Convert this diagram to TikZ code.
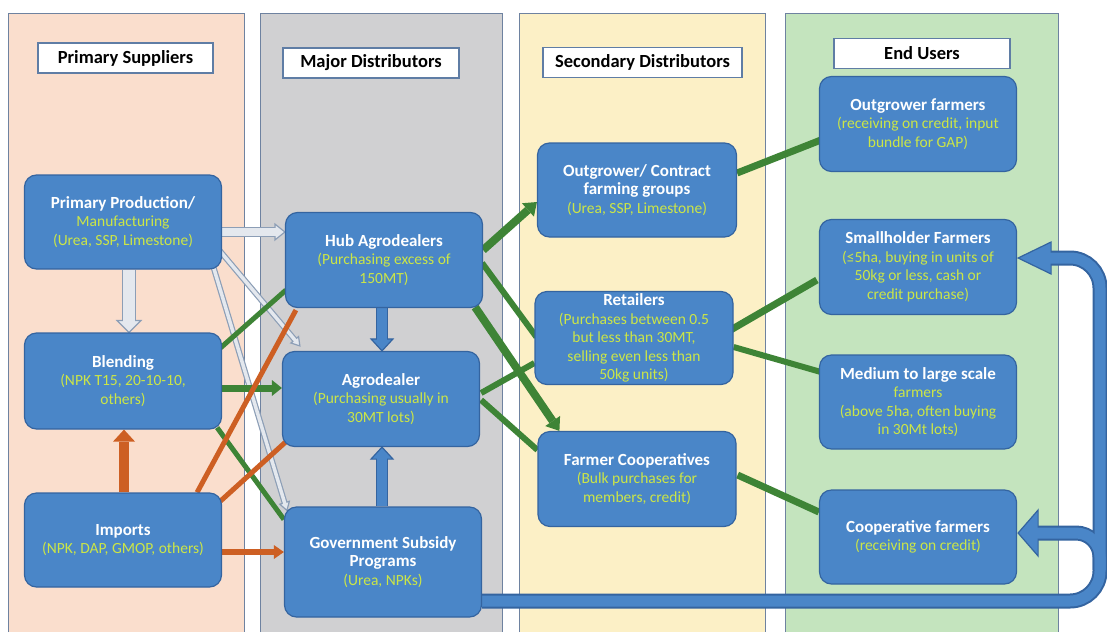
\documentclass[tikz,border=0pt]{standalone}
\usepackage{fontspec}
\setmainfont{Carlito}
\usetikzlibrary{calc,arrows.meta}
\definecolor{nodeblue}{RGB}{74,134,200}
\definecolor{bluebd}{RGB}{52,100,160}
\definecolor{subyg}{RGB}{204,230,70}
\definecolor{pPeach}{RGB}{250,222,205}
\definecolor{pGray}{RGB}{208,208,210}
\definecolor{pYellow}{RGB}{252,240,198}
\definecolor{pGreen}{RGB}{196,228,190}
\definecolor{panelbd}{RGB}{110,130,160}
\definecolor{titlebd}{RGB}{95,125,165}
\definecolor{grn}{RGB}{62,132,54}
\definecolor{org}{RGB}{205,95,35}
\definecolor{lgfill}{RGB}{228,232,238}
\definecolor{lgbd}{RGB}{140,158,182}
\pgfdeclarelayer{bg}
\pgfdeclarelayer{conn}
\pgfsetlayers{bg,conn,main}
% plain arrow: colour, width, from, tip, head length, head half width
\newcommand\parrow[6]{%
  \path ($(#4)!#5!(#3)$) coordinate (hbp);
  \draw[#1, line width=#2] (#3) -- (hbp);
  \fill[#1] (#4) -- ($(hbp)!#6!90:(#4)$) -- ($(hbp)!#6!-90:(#4)$) -- cycle;
}
% bordered block arrow: fill, border, shaft width, from, tip, head length, head half width
\newcommand\barrow[7]{%
  \path ($(#5)!#6!(#4)$) coordinate (hbb);
  \draw[#2, line width=#3+2.4pt] (#4) -- (hbb);
  \filldraw[fill=#1, draw=#2, line width=1.2pt, line join=miter] (#5) -- ($(hbb)!#7!90:(#5)$) -- ($(hbb)!#7!-90:(#5)$) -- cycle;
  \draw[#1, line width=#3] (#4) -- ($(hbb)!1.6pt!(#5)$);
}
\tikzset{
  box/.style={rounded corners=12pt, fill=nodeblue, draw=bluebd, line width=1.2pt,
    minimum width=197pt, minimum height=94pt, align=center, text=white, inner sep=2pt,
    font=\fontsize{15.5}{18.5}\selectfont},
  title/.style={fill=white, draw=titlebd, line width=1.2pt, minimum height=30pt,
    font=\fontsize{18.5}{20}\selectfont\bfseries, text=black, inner sep=0pt},
  panel/.style={draw=panelbd, line width=1pt},
  gline/.style={grn, line width=#1},
  oline/.style={org, line width=#1},
}
\newcommand\hd[1]{{\fontsize{17}{18.5}\selectfont\bfseries #1}}
\newcommand\sub[1]{\textcolor{subyg}{#1}}
\begin{document}
\begin{tikzpicture}[x=1pt,y=-1pt]
\useasboundingbox (0,0) rectangle (1107,632);
\begin{pgfonlayer}{bg}
  \fill[white] (0,0) rectangle (1107,632);
  \fill[pPeach] (8,13) rectangle (244,632);
  \draw[panel] (8,632) -- (8,13) -- (244,13) -- (244,632);
  \fill[pGray] (260,13) rectangle (502,632);
  \draw[panel] (260,632) -- (260,13) -- (502,13) -- (502,632);
  \fill[pYellow] (519,13) rectangle (765,632);
  \draw[panel] (519,632) -- (519,13) -- (765,13) -- (765,632);
  \fill[pGreen] (785,13) rectangle (1058,632);
  \draw[panel] (785,632) -- (785,13) -- (1058,13) -- (1058,632);
\end{pgfonlayer}

% titles
\node[title, minimum width=175pt] (T1) at (125.5,58) {Primary Suppliers};
\node[title, minimum width=176pt] (T2) at (371,63) {Major Distributors};
\node[title, minimum width=199pt] (T3) at (642.5,62.5) {Secondary Distributors};
\node[title, minimum width=176pt] (T4) at (922,53.5) {End Users};

% nodes
\node[box] (PP) at (123,222) {\hd{Primary Production/}\\\sub{Manufacturing}\\\sub{(Urea, SSP, Limestone)}};
\node[box, minimum height=96pt] (Blend) at (123,381) {\hd{Blending}\\\sub{(NPK T15, 20-10-10,}\\\sub{others)}};
\node[box] (Imp) at (123,540) {\hd{Imports}\\\sub{(NPK, DAP, GMOP, others)}};
\node[box, minimum height=95pt] (Hub) at (384,260) {\hd{Hub Agrodealers}\\\sub{(Purchasing excess of}\\\sub{150MT)}};
\node[box, minimum height=95pt] (Agro) at (381,399) {\hd{Agrodealer}\\\sub{(Purchasing usually in}\\\sub{30MT lots)}};
\node[box, minimum height=110pt] (Gov) at (383,562) {\hd{Government Subsidy}\\\hd{Programs}\\\sub{(Urea, NPKs)}};
\node[box, minimum width=199pt] (OCG) at (637,190) {\hd{Outgrower/ Contract}\\\hd{farming groups}\\\sub{(Urea, SSP, Limestone)}};
\node[box, minimum width=198pt, minimum height=93pt] (Ret) at (634,338) {\hd{Retailers}\\\sub{(Purchases between 0.5}\\\sub{but less than 30MT,}\\\sub{selling even less than}\\\sub{50kg units)}};
\node[box, minimum width=198pt, minimum height=95pt] (FC) at (637,479) {\hd{Farmer Cooperatives}\\\sub{(Bulk purchases for}\\\sub{members, credit)}};
\node[box, minimum height=95pt] (OF) at (918,124) {\hd{Outgrower farmers}\\\sub{(receiving on credit, input}\\\sub{bundle for GAP)}};
\node[box, minimum height=95pt] (SF) at (918,267) {\hd{Smallholder Farmers}\\\sub{(≤5ha, buying in units of}\\\sub{50kg or less, cash or}\\\sub{credit purchase)}};
\node[box] (MF) at (918,402) {\hd{Medium to large scale}\\\sub{farmers}\\\sub{(above 5ha, often buying}\\\sub{in 30Mt lots)}};
\node[box] (CF) at (918,537) {\hd{Cooperative farmers}\\\sub{(receiving on credit)}};

% connection points
\path ($(PP.east)+(0,10)$) coordinate (s1) ($(Hub.west)+(0,-28)$) coordinate (e1)
      ($(PP.south)+(6,0)$) coordinate (s2) ($(Blend.north)+(6,0)$) coordinate (e2)
      ($(PP.south east)+(-5,-22)$) coordinate (s3) ($(Agro.north west)+(18,-5)$) coordinate (e3)
      ($(PP.south east)+(-10,-7)$) coordinate (s4) ($(Gov.north west)+(3,4)$) coordinate (e4)
      ($(Blend.east)+(-4,-31)$) coordinate (s5) ($(Hub.south west)+(1,-18)$) coordinate (e5)
      ($(Blend.east)+(0,7)$) coordinate (s6) ($(Agro.west)+(0,-11)$) coordinate (e6)
      ($(Blend.south east)+(-5,-2)$) coordinate (s7) ($(Gov.north west)+(0,13)$) coordinate (e7)
      ($(Imp.north)+(1,0)$) coordinate (s8) ($(Blend.south)+(1,0)$) coordinate (e8)
      ($(Imp.north east)+(-25,0)$) coordinate (s9) ($(Hub.south west)+(11,2)$) coordinate (e9)
      ($(Imp.north east)+(-2,9)$) coordinate (s10) ($(Agro.south west)+(8,-9)$) coordinate (e10)
      ($(Imp.east)+(0,12)$) coordinate (s11) ($(Gov.west)+(0,-10)$) coordinate (e11)
      ($(Hub.south)+(-2,0)$) coordinate (s12) ($(Agro.north)+(1,0)$) coordinate (e12)
      ($(Gov.north)+(-1,0)$) coordinate (s13) ($(Agro.south)+(1,0)$) coordinate (e13)
      ($(Hub.east)+(0,-10)$) coordinate (s14) ($(OCG.west)+(0,12)$) coordinate (e14)
      ($(Hub.east)+(-1,3)$) coordinate (s15) ($(Ret.west)+(2,-1)$) coordinate (e15)
      ($(Hub.south east)+(-8,-1)$) coordinate (s16) ($(FC.north west)+(22,0)$) coordinate (e16)
      ($(Agro.east)+(1,-6)$) coordinate (s17) ($(Ret.west)+(0,25)$) coordinate (e17)
      ($(Agro.east)+(1,1)$) coordinate (s18) ($(FC.west)+(0,-29)$) coordinate (e18)
      ($(OCG.east)+(0,-17)$) coordinate (s19) ($(OF.west)+(2,16)$) coordinate (e19)
      ($(Ret.east)+(-3,-8)$) coordinate (s20) ($(SF.west)+(-2,13)$) coordinate (e20)
      ($(Ret.east)+(0,9)$) coordinate (s21) ($(MF.west)+(2,-30)$) coordinate (e21)
      ($(FC.east)+(1,-4)$) coordinate (s22) ($(CF.west)+(0,-25)$) coordinate (e22)
      ($(Gov.east)+(0,39)$) coordinate (L0)
      ($(SF.east)+(1,-9)$) coordinate (tipSF)
      ($(CF.east)+(1,-4)$) coordinate (tipCF);
\coordinate (loopBR) at (1100,601);
\coordinate (loopTR) at (1100,258);
\coordinate (loopBM) at (1100,533);
\coordinate (loopStub) at (1100,570);

\begin{pgfonlayer}{conn}
  % light grey arrows from primary production
  \barrow{lgfill}{lgbd}{8pt}{s1}{e1}{10pt}{8pt}
  \barrow{lgfill}{lgbd}{12pt}{s2}{e2}{12pt}{12pt}
  \barrow{lgfill}{lgbd}{3.5pt}{s3}{e3}{8pt}{5pt}
  \barrow{lgfill}{lgbd}{3.5pt}{s4}{e4}{8pt}{5pt}
  % green from blending
  \draw[gline=5pt] (s5) -- (e5);
  \parrow{grn}{7pt}{s6}{e6}{10pt}{8pt}
  \draw[gline=5pt] (s7) -- (e7);
  % orange from imports
  \parrow{org}{10pt}{s8}{e8}{12pt}{11pt}
  \draw[oline=5pt] (s9) -- (e9);
  \draw[oline=5pt] (s10) -- (e10);
  \parrow{org}{6pt}{s11}{e11}{10pt}{7pt}
  % blue block arrows into agrodealer
  \barrow{nodeblue}{bluebd}{10pt}{s12}{e12}{12pt}{11pt}
  \barrow{nodeblue}{bluebd}{10pt}{s13}{e13}{12pt}{11pt}
  % green to secondary distributors
  \parrow{grn}{8pt}{s14}{e14}{12pt}{9pt}
  \draw[gline=6pt] (s15) -- (e15);
  \parrow{grn}{8pt}{s16}{e16}{12pt}{9pt}
  \draw[gline=6pt] (s17) -- (e17);
  \draw[gline=6pt] (s18) -- (e18);
  % green to end users
  \draw[gline=7pt] (s19) -- (e19);
  \draw[gline=7pt] (s20) -- (e20);
  \draw[gline=6pt] (s21) -- (e21);
  \draw[gline=7pt] (s22) -- (e22);
  % big loop from government subsidy programs
  \path ($(tipSF)!33pt!(loopTR)$) coordinate (hbSF) ($(tipSF)!31pt!(loopTR)$) coordinate (hbSFi)
        ($(tipCF)!20pt!(loopBM)$) coordinate (hbCF) ($(tipCF)!18pt!(loopBM)$) coordinate (hbCFi);
  \draw[bluebd, line width=15pt, rounded corners=30pt] (L0) -- (loopBR) -- (loopTR) -- (hbSF);
  \draw[bluebd, line width=15pt, rounded corners=24pt] (hbCF) -- (loopBM) -- (loopStub);
  \filldraw[fill=nodeblue, draw=bluebd, line width=1.2pt] (tipSF) -- ($(hbSF)+(0,-16)$) -- ($(hbSF)+(0,16)$) -- cycle;
  \filldraw[fill=nodeblue, draw=bluebd, line width=1.2pt] (tipCF) -- ($(hbCF)+(0,-23)$) -- ($(hbCF)+(0,23)$) -- cycle;
  \draw[nodeblue, line width=11pt, rounded corners=30pt] (L0) -- (loopBR) -- (loopTR) -- (hbSFi);
  \draw[nodeblue, line width=11pt, rounded corners=24pt] (hbCFi) -- (loopBM) -- (loopStub);
\end{pgfonlayer}
\end{tikzpicture}
\end{document}
